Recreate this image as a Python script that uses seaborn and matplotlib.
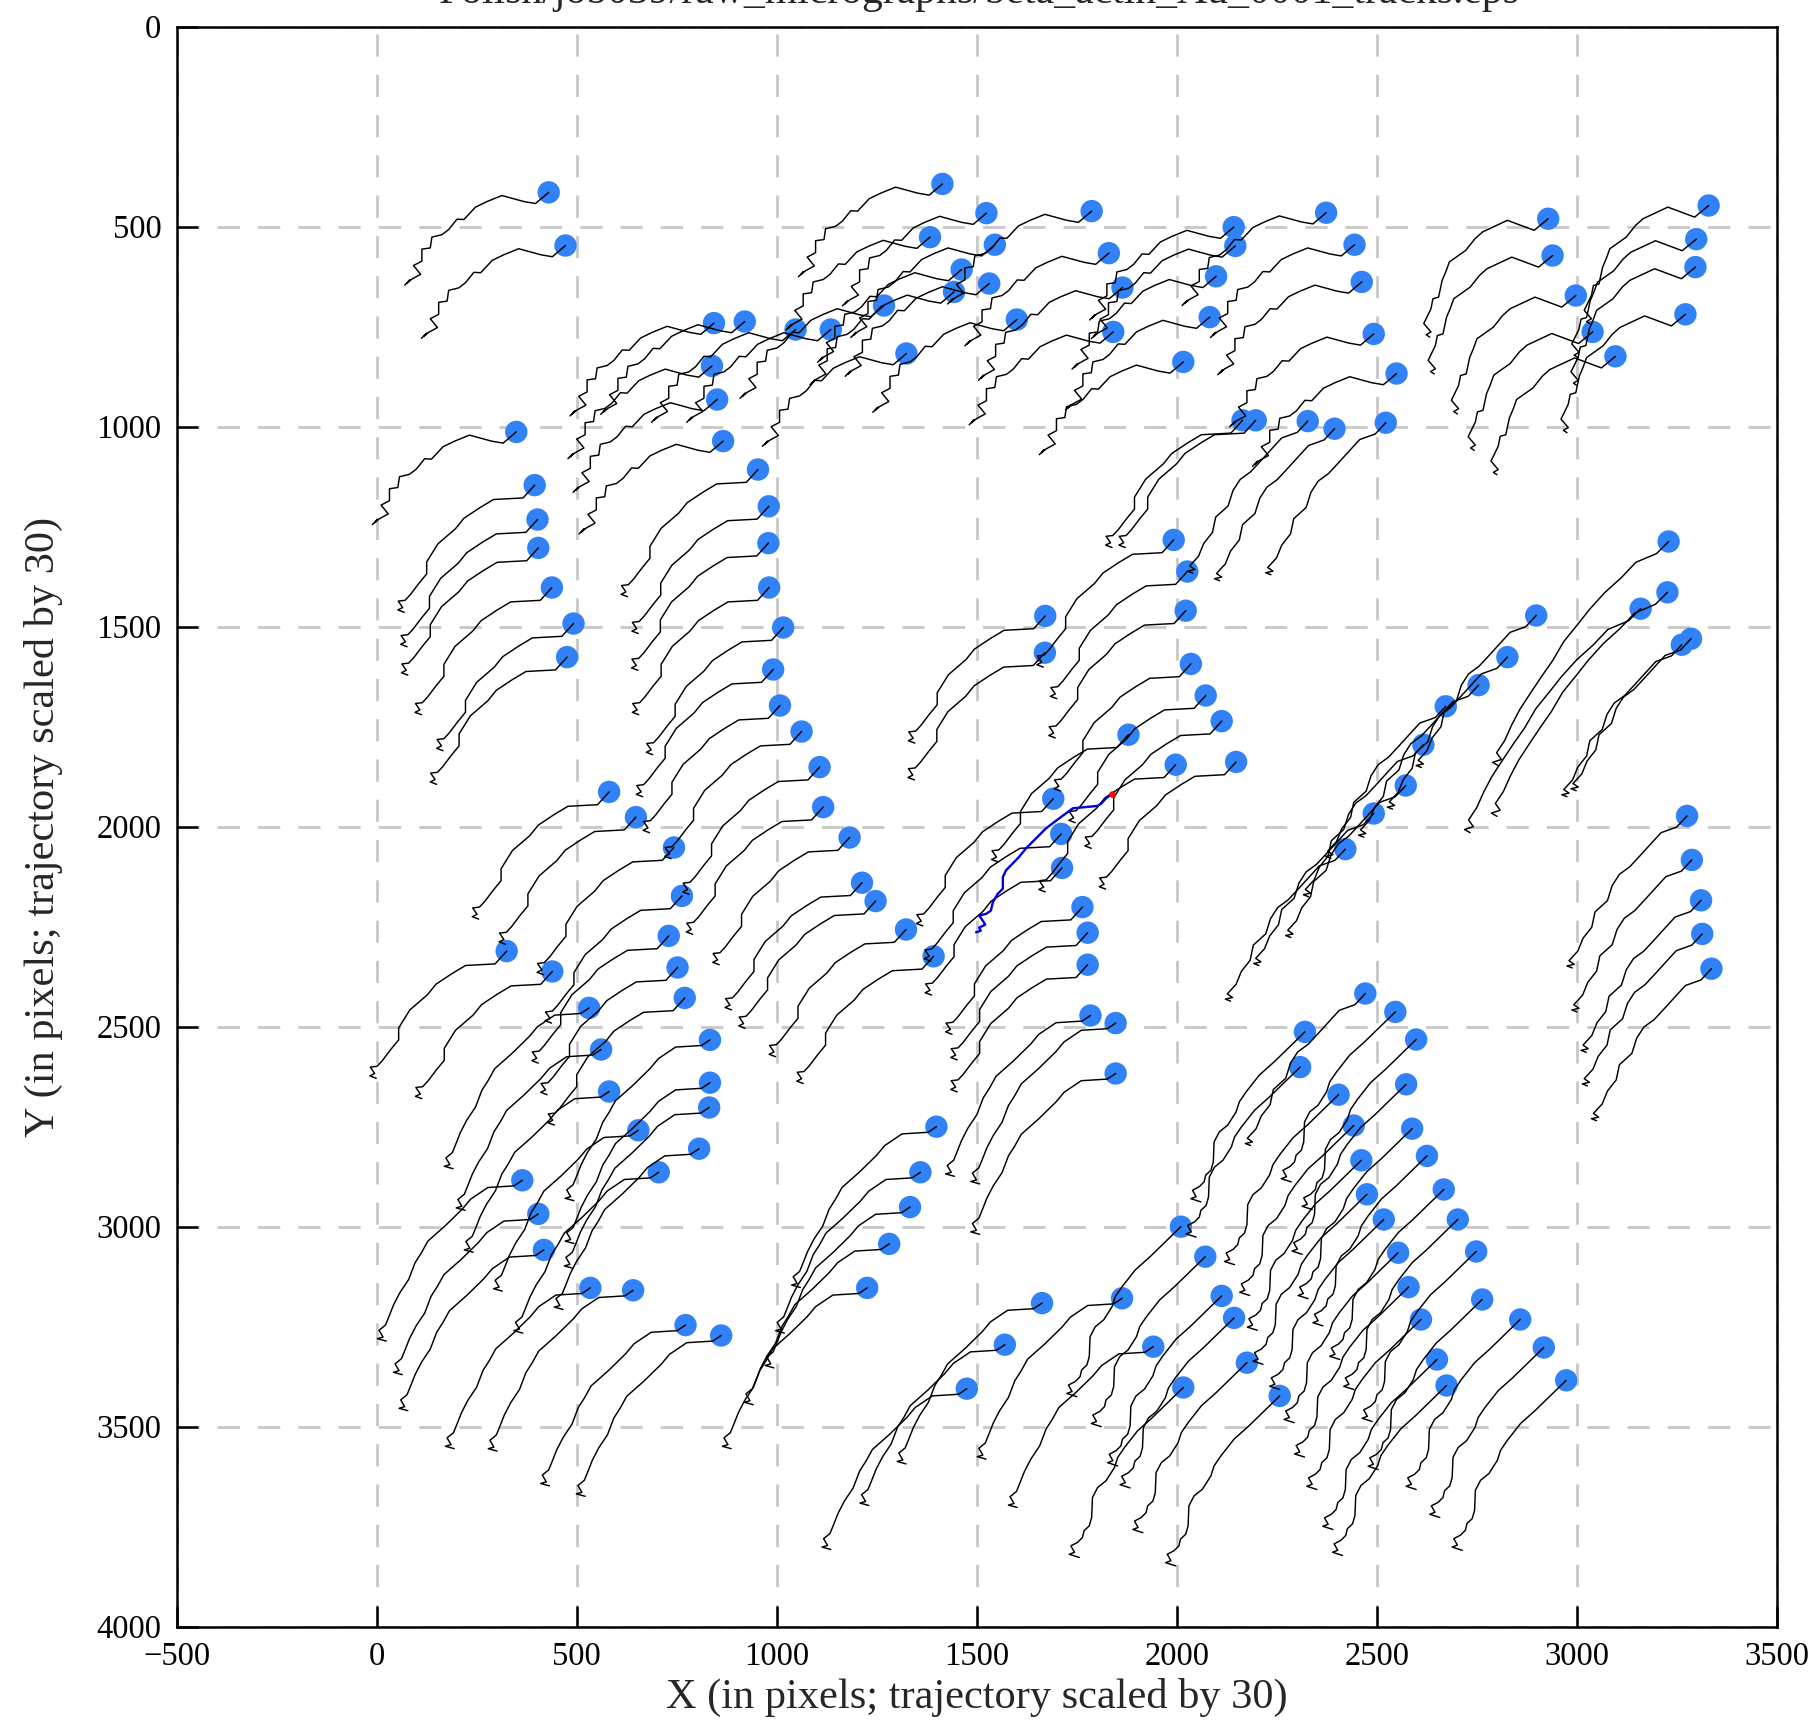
import numpy as np
import pandas as pd
import seaborn as sns
import matplotlib
matplotlib.use("Agg")
import matplotlib.pyplot as plt

# particle positions (blue dots)
dot_x = [430, 472, 1414, 1524, 1383, 1462, 1545, 1443, 1531, 1787, 1830, 1864, 1600, 1841,
         2142, 2146, 2098, 2082, 2016, 2373, 2444, 2462, 2492, 2549,
         2928, 2939, 3329, 3298, 3296, 2997, 3039, 3271, 3096,
         843, 920, 838, 851, 866, 1047, 1135, 1268, 1324,
         2164, 2197, 2327, 2394, 2522,
         349, 395, 402, 404, 438, 492, 476,
         953, 980, 979, 981, 1016, 991, 1008, 1062, 1107, 1116, 1182, 1213, 1247, 1323, 1392,
         581, 648, 743, 763, 730, 752, 770,
         325, 439, 531, 561, 581, 833, 833, 831, 654, 806, 705, 364, 404, 418, 534, 641, 772, 861,
         1399, 1359, 1333, 1281, 1226, 1663, 1570, 1475, 1863, 1941, 2016,
         2010, 2071, 2112, 2143, 2175, 2257,
         2471, 2546, 2598, 2320, 2308, 2404, 2442, 2573, 2588, 2461, 2625, 2475, 2667, 2517,
         2702, 2553, 2748, 2579, 2763, 2610, 2858, 2650, 2917, 2674, 2973,
         1671, 1670, 1992, 2026, 2022, 2035, 2072, 2112, 1879, 1997, 2148,
         1691, 1711, 1713, 1764, 1777, 1777, 1784, 1847, 1847,
         3229, 3226, 3159, 2898, 2826, 2754, 2672, 2616, 2572, 2492, 2421, 3262, 3285,
         3275, 3287, 3310, 3313, 3336]
dot_y = [414, 547, 393, 466, 526, 607, 545, 663, 642, 461, 566, 652, 732, 763,
         501, 548, 624, 726, 838, 465, 545, 638, 768, 867,
         480, 572, 447, 531, 601, 672, 763, 719, 824,
         741, 737, 848, 932, 1036, 757, 757, 697, 817,
         984, 984, 986, 1005, 990,
         1013, 1146, 1232, 1303, 1402, 1492, 1576,
         1107, 1199, 1291, 1402, 1502, 1607, 1697, 1762, 1851, 1951, 2027, 2140, 2186, 2257, 2324,
         1913, 1976, 2052, 2173, 2273, 2352, 2428,
         2311, 2362, 2453, 2557, 2662, 2533, 2640, 2702, 2759, 2805, 2864, 2884, 2968, 3058, 3153, 3159, 3246, 3272,
         2750, 2864, 2951, 3043, 3153, 3191, 3295, 3405, 3179, 3300, 3402,
         3000, 3075, 3173, 3228, 3340, 3423,
         2417, 2463, 2532, 2513, 2601, 2670, 2747, 2644, 2755, 2834, 2823, 2919, 2907, 2982,
         2982, 3065, 3062, 3151, 3182, 3232, 3232, 3332, 3302, 3397, 3384,
         1473, 1565, 1283, 1362, 1460, 1593, 1672, 1736, 1770, 1845, 1838,
         1930, 2018, 2103, 2201, 2265, 2345, 2472, 2491, 2617,
         1287, 1414, 1455, 1472, 1576, 1646, 1699, 1795, 1897, 1967, 2056, 1545, 1530,
         1973, 2083, 2184, 2268, 2355]

# trajectory shapes (offsets from the particle, already scaled by 30), traced by region
track_top_dx = [0, -33, -62, -117, -154, -183, -212, -229, -250, -267, -292, -296, -317, -317, -338, -320, -342, -354, -347, -360]
track_top_dy = [0, 28, 23, 8, 23, 37, 68, 67, 93, 106, 112, 139, 142, 172, 183, 205, 217, 227, 219, 232]
track_topr_dx = [0, -35, -102, -164, -183, -206, -247, -256, -265, -274, -288, -293, -311, -293, -305, -296]
track_topr_dy = [0, 29, 4, 33, 50, 79, 108, 133, 154, 196, 200, 225, 262, 283, 290, 296]
track_mid_dx = [0, -29, -103, -138, -177, -198, -242, -270, -270, -289, -311, -324, -341, -330, -342, -326]
track_mid_dy = [0, 32, 36, 57, 83, 109, 147, 192, 222, 245, 274, 288, 290, 306, 312, 318]
track_rmid_dx = [0, -26, -65, -87, -117, -143, -169, -187, -199, -230, -238, -260, -273, -295, -282, -300, -287]
track_rmid_dy = [0, 28, 42, 66, 99, 127, 146, 174, 212, 240, 278, 306, 338, 362, 371, 375, 380]
track_rtop_dx = [0, -30, -82, -118, -160, -198, -228, -262, -290, -318, -346, -372, -392, -410, -430, -418, -440, -426]
track_rtop_dy = [0, 30, 52, 90, 128, 170, 208, 250, 298, 338, 380, 420, 458, 498, 528, 545, 552, 560]
track_bot_dx = [0, -77, -114, -147, -164, -172, -193, -214, -227, -229, -235, -248, -252, -264, -281, -272, -285, -260]
track_bot_dy = [0, 75, 108, 150, 175, 200, 233, 250, 275, 325, 346, 358, 375, 387, 396, 412, 417, 425]
track_botl_dx = [0, -21, -86, -129, -150, -193, -236, -252, -268, -284, -306, -322, -333, -342, -358, -348, -362, -340]
track_botl_dy = [0, 14, 18, 47, 72, 114, 152, 181, 206, 248, 281, 312, 340, 362, 375, 392, 396, 402]

# highlighted trajectory (blue) and its start (red)
sel_x = [1837, 1823, 1810, 1802, 1740, 1706, 1673, 1648, 1623, 1606, 1573, 1565, 1565, 1552,
         1540, 1535, 1523, 1506, 1515, 1521, 1506, 1510, 1498]
sel_y = [1918, 1929, 1943, 1948, 1954, 1979, 2004, 2029, 2054, 2075, 2109, 2126, 2155, 2168,
         2189, 2210, 2218, 2222, 2235, 2245, 2252, 2260, 2264]

title = "Polish/job039/raw_micrographs/beta_actin_Au_0001_tracks.eps"

templates = {
    "top": (track_top_dx, track_top_dy),
    "topr": (track_topr_dx, track_topr_dy),
    "mid": (track_mid_dx, track_mid_dy),
    "rmid": (track_rmid_dx, track_rmid_dy),
    "rtop": (track_rtop_dx, track_rtop_dy),
    "bot": (track_bot_dx, track_bot_dy),
    "botl": (track_botl_dx, track_botl_dy),
}


def region(x, y):
    if y < 950 or (y < 1100 and x < 2000):
        return "topr" if x > 2800 else "top"
    if y >= 2450:
        return "bot" if x >= 2000 else "botl"
    if x > 3100 and y < 1500:
        return "rtop"
    if x >= 2300:
        return "rmid"
    return "mid"


rows = []
for i, (px, py) in enumerate(zip(dot_x, dot_y)):
    dx, dy = templates[region(px, py)]
    for ox, oy in zip(dx, dy):
        rows.append((i, px + ox, py + oy))
tracks = pd.DataFrame(rows, columns=["track", "x", "y"])
dots = pd.DataFrame({"x": dot_x, "y": dot_y})
sel = pd.DataFrame({"x": sel_x, "y": sel_y})

sns.set_theme(style="white")
plt.rcParams["font.family"] = ["Liberation Serif", "DejaVu Serif"]

fig = plt.figure(figsize=(18.15, 17.25), dpi=100)
ax = fig.add_axes([0.0973, 0.0570, 0.8818, 0.9275])

sns.scatterplot(data=dots, x="x", y="y", ax=ax, s=260, color="#3182f6",
                edgecolor="none", linewidth=0, zorder=2, legend=False)
sns.lineplot(data=tracks, x="x", y="y", units="track", estimator=None, sort=False,
             ax=ax, color="black", lw=1.05, zorder=3, legend=False)
sns.lineplot(data=sel, x="x", y="y", estimator=None, sort=False, ax=ax,
             color="#0000dd", lw=1.7, zorder=4)
ax.scatter(sel_x[:1], sel_y[:1], s=14, color="red", zorder=5)

ax.set_xlim(-500, 3500)
ax.set_ylim(4000, 0)
ax.set_xticks(range(-500, 3501, 500))
ax.set_yticks(range(0, 4001, 500))
ax.grid(True, color="#c8c8c8", lw=2.0, linestyle=(0, (8, 6.5)))
ax.set_axisbelow(True)
for sp in ax.spines.values():
    sp.set_color("black")
    sp.set_linewidth(1.8)
ax.tick_params(direction="in", length=15, width=1.8, labelsize=23.5, pad=11,
               colors="black", bottom=True, left=True, top=False, right=False)
ax.set_xlabel("X (in pixels; trajectory scaled by 30)", fontsize=30.5, labelpad=4)
ax.set_ylabel("Y (in pixels; trajectory scaled by 30)", fontsize=30.5, labelpad=24)
fig.text(0.5393, 0.9982, title, ha="center", va="baseline", fontsize=30)

fig.savefig("out.png", dpi=100)
